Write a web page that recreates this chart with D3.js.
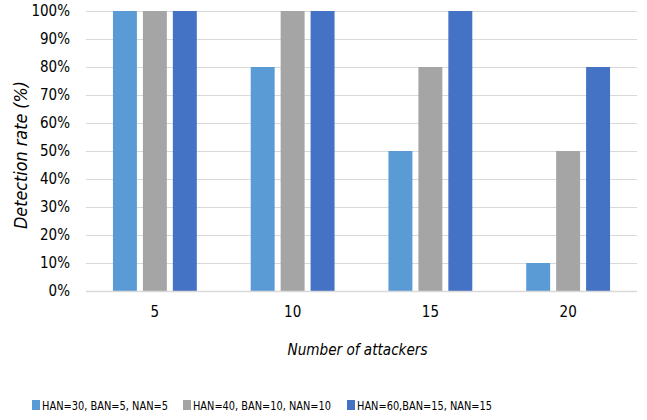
<!DOCTYPE html>
<html>
<head>
<meta charset="utf-8">
<script src="https://cdn.jsdelivr.net/npm/d3@7"></script>
<style>
  html, body { margin: 0; padding: 0; background: #fff; }
  svg text { font-family: "DejaVu Sans Condensed", "Liberation Sans", sans-serif; fill: #000; }
</style>
</head>
<body>
<svg id="chart" width="647" height="420"></svg>
<script>
// Number of attackers on the x axis
const categories = ["5", "10", "15", "20"];
// Series names shown in the legend
const seriesNames = ["HAN=30, BAN=5, NAN=5", "HAN=40, BAN=10, NAN=10", "HAN=60,BAN=15, NAN=15"];
// Detection rate (%) per series, one value per attacker count
const seriesA = [100, 80, 50, 10];
const seriesB = [100, 100, 80, 50];
const seriesC = [100, 100, 100, 80];
const yTicks = [0, 10, 20, 30, 40, 50, 60, 70, 80, 90, 100];
const colors = ["#5B9BD5", "#A5A5A5", "#4472C4"];

const series = [seriesA, seriesB, seriesC];
const svg = d3.select("#chart");
const m = { left: 86, right: 637, top: 11, bottom: 291 };
const font = '"DejaVu Sans Condensed", "Liberation Sans", sans-serif';

const x = d3.scaleBand().domain(categories).range([m.left, m.right]).paddingInner(0).paddingOuter(0);
const x1 = d3.scaleBand().domain(d3.range(series.length)).range([0, x.bandwidth()]).paddingInner(0.2).paddingOuter(0.9);
const y = d3.scaleLinear().domain([0, 100]).range([m.bottom, m.top]);

// gridlines
svg.append("g").selectAll("line").data(yTicks).join("line")
  .attr("x1", m.left).attr("x2", m.right)
  .attr("y1", d => y(d) + 0.5).attr("y2", d => y(d) + 0.5)
  .attr("stroke", "#D9D9D9").attr("stroke-width", 1);

// y tick labels
const yAxis = d3.axisLeft(y).tickValues(yTicks).tickFormat(d => d + "%").tickSize(0).tickPadding(0);
const gy = svg.append("g").attr("transform", `translate(${m.left - 16},0)`).call(yAxis);
gy.select(".domain").remove();
gy.selectAll("text").attr("font-size", 15).attr("fill", "#000").style("font-family", font);

// bars
const groups = svg.append("g").selectAll("g").data(categories).join("g")
  .attr("transform", d => `translate(${x(d)},0)`);
groups.selectAll("rect").data((c, i) => series.map((s, k) => ({ k, v: s[i] }))).join("rect")
  .attr("x", d => x1(d.k))
  .attr("width", x1.bandwidth())
  .attr("y", d => y(d.v))
  .attr("height", d => y(0) - y(d.v))
  .attr("fill", d => colors[d.k]);

// baseline
svg.append("line").attr("x1", m.left).attr("x2", m.right)
  .attr("y1", y(0) + 0.5).attr("y2", y(0) + 0.5)
  .attr("stroke", "#D9D9D9").attr("stroke-width", 1.5);

// x tick labels
const xAxis = d3.axisBottom(x).tickSize(0).tickPadding(0);
const gx = svg.append("g").attr("transform", `translate(0,${y(0) + 15})`).call(xAxis);
gx.select(".domain").remove();
gx.selectAll("text").attr("font-size", 15).attr("fill", "#000").style("font-family", font);

// axis titles
svg.append("text").attr("x", (m.left + m.right) / 2 - 4).attr("y", 355)
  .attr("text-anchor", "middle").attr("font-size", 16).attr("font-style", "italic")
  .attr("textLength", 140).attr("lengthAdjust", "spacingAndGlyphs")
  .text("Number of attackers");
svg.append("text").attr("transform", `translate(27,${(m.top + m.bottom) / 2 + 4}) rotate(-90)`)
  .attr("text-anchor", "middle").attr("font-size", 17).attr("font-style", "italic")
  .attr("textLength", 148).attr("lengthAdjust", "spacingAndGlyphs")
  .text("Detection rate (%)");

// legend
const legendX = [32, 183, 347];
const legendW = [126, 138, 135];
const lg = svg.append("g").selectAll("g").data(seriesNames).join("g")
  .attr("transform", (d, i) => `translate(${legendX[i]},400)`);
lg.append("rect").attr("x", 0).attr("y", 0).attr("width", 8).attr("height", 10)
  .attr("fill", (d, i) => colors[i]);
lg.append("text").attr("x", 10).attr("y", 10).attr("font-size", 12.5)
  .attr("textLength", (d, i) => legendW[i]).attr("lengthAdjust", "spacingAndGlyphs")
  .text(d => d);
</script>
</body>
</html>
